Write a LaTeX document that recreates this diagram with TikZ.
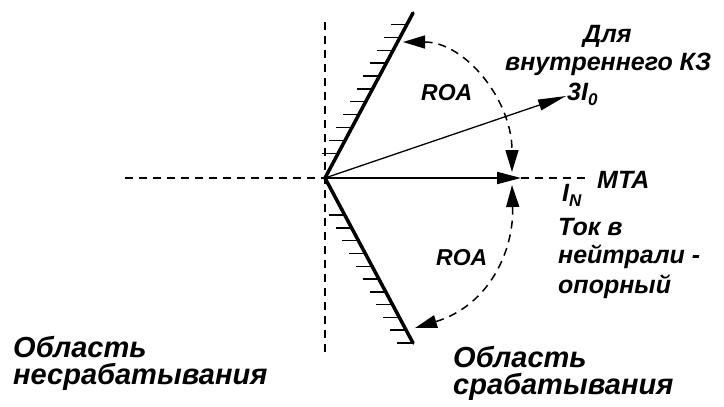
\documentclass[tikz,border=0pt]{standalone}
\usepackage{fontspec}
\setmainfont{Liberation Sans}
\usetikzlibrary{arrows.meta,calc}
\tikzset{
  lbl/.style={inner sep=0pt, anchor=base west, font=\fontsize{25}{29}\selectfont\bfseries\itshape},
  biglbl/.style={inner sep=0pt, anchor=base west, font=\fontsize{29}{33}\selectfont\bfseries\itshape},
  roa/.style={inner sep=0pt, anchor=base west, font=\fontsize{23}{26}\selectfont\bfseries\itshape},
  bound/.style={line width=3.5pt, line cap=round},
  hatch/.style={line width=1.4pt},
  dsh/.style={line width=1.5pt, dash pattern=on 8pt off 6pt},
  arcline/.style={dsh, {Triangle[length=22pt,width=13pt]}-{Triangle[length=22pt,width=13pt]}},
}
\begin{document}
\begin{tikzpicture}[x=1pt,y=-1pt]
\useasboundingbox[fill=white] (0,0) rectangle (724,407);
% key points
\coordinate (O) at (325,178);
\coordinate (U) at (413,13);
\coordinate (L) at (413,343);
\coordinate (V1) at (325,22);
\coordinate (V2) at (325,357);
\coordinate (H1) at (125,178);
\coordinate (M) at (521,178);
\coordinate (M2) at (590,178);
\coordinate (T) at (566,96);
\coordinate (A1) at (403,42);
\coordinate (A2) at (512,172);
\coordinate (A3) at (512,185);
\coordinate (A4) at (415,328);
% dashed axes
\draw[dsh] (V1) -- (V2);
\draw[dsh] (H1) -- (O);
\draw[dsh] (M) -- (M2);
% boundaries with hatching
\draw[bound] (O) -- (U);
\draw[bound] (O) -- (L);
\foreach \f in {0.15,0.228,0.306,0.384,0.462,0.54,0.618,0.696,0.774,0.852,0.93}
  \draw[hatch] ($(O)!\f!(U)$) -- ++(-16,0);
\foreach \f in {0.224,0.302,0.379,0.457,0.535,0.612,0.69,0.767,0.845,0.922,1.0}
  \draw[hatch] ($(O)!\f!(L)$) -- ++(-16,0);
% vectors
\draw[line width=2pt, -{Triangle[length=24pt,width=12pt]}] (O) -- (M);
\draw[line width=1.3pt, -{Triangle[length=28pt,width=11pt]}] (O) -- (T);
% ROA arcs
\draw[arcline] (A1) .. controls (465,42) and (512,100) .. (A2);
\draw[arcline] (A3) .. controls (514,250) and (490,305) .. (A4);
% labels
\node[roa] (roa1) at (421,100) {ROA};
\node[roa] (roa2) at (436,265) {ROA};
\node[lbl] (mta) at (597,188) {MTA};
\node[lbl] (in) at (562,201) {I{\fontsize{17}{17}\selectfont\raisebox{-5pt}{N}}};
\node[lbl] (toi) at (567,100) {3I{\fontsize{17}{17}\selectfont\raisebox{-5pt}{0}}};
\node[lbl] (d1) at (583,42) {Для};
\node[lbl] (d2) at (505,70) {внутреннего КЗ};
\node[lbl] (t1) at (558,235) {Ток в};
\node[lbl] (t2) at (558,263) {нейтрали -};
\node[lbl] (t3) at (558,293) {опорный};
\node[biglbl] (b1) at (13,357) {Область};
\node[biglbl] (b2) at (13,384) {несрабатывания};
\node[biglbl] (c1) at (453,367) {Область};
\node[biglbl] (c2) at (453,394) {срабатывания};
\end{tikzpicture}
\end{document}
